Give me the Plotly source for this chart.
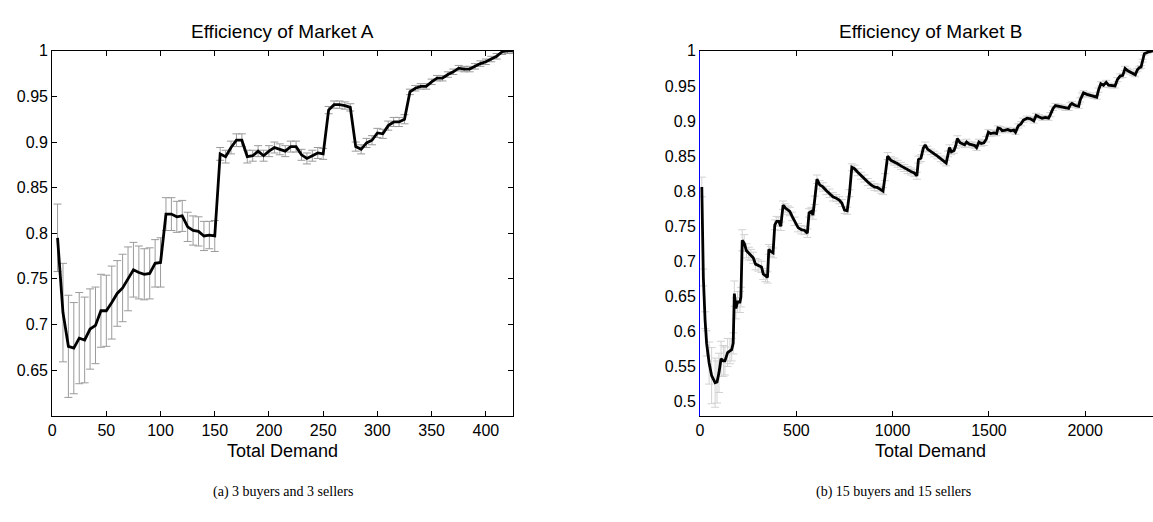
import plotly.graph_objects as go

# ---------------- Market A (3 buyers, 3 sellers) ----------------
demand_a = list(range(5, 426, 5))
eff_a = [0.795, 0.713, 0.676, 0.674, 0.685, 0.683, 0.695, 0.699, 0.715, 0.715,
         0.724, 0.734, 0.740, 0.750, 0.760, 0.757, 0.755, 0.756, 0.767, 0.768,
         0.821, 0.821, 0.818, 0.819, 0.807, 0.803, 0.802, 0.797, 0.798, 0.797,
         0.887, 0.884, 0.894, 0.902, 0.902, 0.884, 0.885, 0.890, 0.885, 0.890,
         0.894, 0.892, 0.890, 0.895, 0.895, 0.886, 0.882, 0.885, 0.888, 0.887,
         0.935, 0.941, 0.941, 0.940, 0.938,
         0.895, 0.892, 0.899, 0.902, 0.910, 0.909, 0.918, 0.922, 0.922, 0.925,
         0.955, 0.959, 0.961, 0.961, 0.966, 0.970, 0.970, 0.974, 0.977, 0.981,
         0.980, 0.980, 0.983, 0.986, 0.988, 0.991, 0.994, 0.999, 1.000, 1.000]
err_a = [0.037, 0.054, 0.056, 0.050, 0.050, 0.047, 0.044, 0.042, 0.040, 0.039,
         0.040, 0.036, 0.037, 0.035, 0.030, 0.029, 0.028, 0.028, 0.026, 0.027,
         0.018, 0.018, 0.017, 0.017, 0.016, 0.016, 0.016, 0.016, 0.015, 0.017,
         0.007, 0.007, 0.007, 0.007, 0.007, 0.007, 0.006, 0.006, 0.006, 0.006,
         0.006, 0.006, 0.006, 0.006, 0.006, 0.006, 0.006, 0.006, 0.006, 0.006,
         0.004, 0.004, 0.004, 0.004, 0.004,
         0.005, 0.005, 0.005, 0.005, 0.005, 0.005, 0.005, 0.005, 0.005, 0.005,
         0.003, 0.003, 0.003, 0.003, 0.003, 0.003, 0.003, 0.003, 0.003, 0.003,
         0.003, 0.003, 0.003, 0.003, 0.003, 0.003, 0.003, 0.003, 0.003, 0.003]

# ---------------- Market B (15 buyers, 15 sellers) ----------------
demand_b = [9, 17, 26, 34, 47, 60, 78, 88, 98, 109,
            121, 129, 143, 155, 164, 172, 178, 186, 195, 207,
            212, 219, 229, 241, 253, 264, 276, 288, 302, 319,
            328, 340, 350, 357, 367, 379, 388, 398, 409, 419,
            431, 443, 457, 466, 478, 491, 509, 526, 543, 557,
            566, 578, 586, 595, 607, 621, 638, 655, 672, 690,
            707, 724, 736, 750, 764, 776, 788, 802, 819, 836,
            853, 871, 888, 905, 922, 940, 950, 960, 974, 991,
            1009, 1026, 1043, 1060, 1078, 1095, 1112, 1126, 1134, 1147,
            1159, 1169, 1181, 1198, 1216, 1233, 1250, 1267, 1278, 1288,
            1295, 1305, 1319, 1328, 1336, 1350, 1362, 1374, 1384, 1398,
            1414, 1426, 1436, 1448, 1460, 1474, 1486, 1497, 1509, 1526,
            1540, 1547, 1560, 1569, 1586, 1598, 1612, 1629, 1638, 1652,
            1667, 1678, 1698, 1716, 1733, 1745, 1759, 1776, 1793, 1810,
            1819, 1833, 1845, 1862, 1879, 1897, 1914, 1922, 1931, 1948,
            1966, 1974, 1983, 1991, 2009, 2026, 2043, 2060, 2069, 2081,
            2095, 2109, 2121, 2138, 2155, 2167, 2181, 2195, 2207, 2219,
            2233, 2250, 2260, 2271, 2281, 2290, 2298, 2307, 2324, 2352]
eff_b = [0.806, 0.677, 0.616, 0.583, 0.555, 0.537, 0.527, 0.528, 0.541, 0.561,
         0.558, 0.558, 0.570, 0.572, 0.574, 0.583, 0.654, 0.633, 0.642, 0.642,
         0.649, 0.730, 0.726, 0.715, 0.711, 0.709, 0.705, 0.696, 0.694, 0.692,
         0.682, 0.679, 0.677, 0.717, 0.714, 0.712, 0.752, 0.757, 0.757, 0.750,
         0.780, 0.776, 0.773, 0.771, 0.764, 0.757, 0.748, 0.745, 0.744, 0.740,
         0.769, 0.771, 0.766, 0.787, 0.817, 0.809, 0.806, 0.801, 0.797, 0.792,
         0.790, 0.787, 0.783, 0.773, 0.772, 0.797, 0.834, 0.832, 0.827, 0.822,
         0.818, 0.813, 0.809, 0.806, 0.805, 0.802, 0.800, 0.820, 0.850, 0.844,
         0.842, 0.839, 0.836, 0.833, 0.830, 0.828, 0.826, 0.822, 0.845, 0.847,
         0.861, 0.866, 0.860, 0.856, 0.853, 0.850, 0.846, 0.843, 0.840, 0.853,
         0.862, 0.856, 0.858, 0.865, 0.875, 0.869, 0.867, 0.866, 0.870, 0.867,
         0.866, 0.865, 0.862, 0.870, 0.868, 0.869, 0.874, 0.884, 0.882, 0.883,
         0.882, 0.890, 0.889, 0.886, 0.887, 0.888, 0.886, 0.887, 0.884, 0.893,
         0.896, 0.901, 0.904, 0.903, 0.900, 0.908, 0.906, 0.904, 0.905, 0.904,
         0.909, 0.918, 0.922, 0.921, 0.920, 0.918, 0.918, 0.923, 0.925, 0.922,
         0.921, 0.930, 0.937, 0.940, 0.938, 0.937, 0.935, 0.934, 0.944, 0.953,
         0.951, 0.955, 0.951, 0.950, 0.950, 0.959, 0.964, 0.965, 0.975, 0.972,
         0.970, 0.968, 0.966, 0.973, 0.976, 0.977, 0.986, 0.996, 0.998, 1.000]
err_b = [0.014, 0.012, 0.012, 0.018, 0.030, 0.040, 0.035, 0.030, 0.028, 0.025,
         0.022, 0.020, 0.020, 0.018, 0.016, 0.015, 0.018, 0.015, 0.015, 0.015,
         0.014, 0.015, 0.012, 0.010, 0.009, 0.008, 0.008, 0.008, 0.008, 0.008,
         0.008, 0.008, 0.008, 0.007, 0.007, 0.007, 0.007, 0.007, 0.006, 0.006,
         0.006, 0.006, 0.006, 0.006, 0.006, 0.006, 0.006, 0.006, 0.006, 0.006,
         0.006, 0.006, 0.006, 0.006, 0.006, 0.006, 0.006, 0.006, 0.006, 0.006,
         0.005, 0.005, 0.005, 0.005, 0.005, 0.005, 0.005, 0.005, 0.005, 0.005,
         0.005, 0.005, 0.005, 0.005, 0.005, 0.005, 0.005, 0.005, 0.005, 0.005,
         0.005, 0.005, 0.005, 0.005, 0.005, 0.005, 0.005, 0.005, 0.005, 0.005,
         0.004, 0.004, 0.004, 0.004, 0.004, 0.004, 0.004, 0.004, 0.004, 0.004,
         0.004, 0.004, 0.004, 0.004, 0.004, 0.004, 0.004, 0.004, 0.004, 0.004,
         0.004, 0.004, 0.004, 0.004, 0.004, 0.004, 0.004, 0.004, 0.004, 0.004,
         0.003, 0.003, 0.003, 0.003, 0.003, 0.003, 0.003, 0.003, 0.003, 0.003,
         0.003, 0.003, 0.003, 0.003, 0.003, 0.003, 0.003, 0.003, 0.003, 0.003,
         0.003, 0.003, 0.003, 0.003, 0.003, 0.003, 0.003, 0.003, 0.003, 0.003,
         0.003, 0.003, 0.003, 0.003, 0.003, 0.003, 0.003, 0.003, 0.003, 0.003,
         0.003, 0.003, 0.003, 0.003, 0.003, 0.003, 0.003, 0.003, 0.003, 0.003,
         0.003, 0.003, 0.003, 0.002, 0.002, 0.002, 0.002, 0.002, 0.002, 0.002]

xticks_a = [0, 50, 100, 150, 200, 250, 300, 350, 400]
yticks_a = [0.65, 0.7, 0.75, 0.8, 0.85, 0.9, 0.95, 1.0]
ylabels_a = ["0.65", "0.7", "0.75", "0.8", "0.85", "0.9", "0.95", "1"]
xticks_b = [0, 500, 1000, 1500, 2000]
yticks_b = [0.5, 0.55, 0.6, 0.65, 0.7, 0.75, 0.8, 0.85, 0.9, 0.95, 1.0]
ylabels_b = ["0.5", "0.55", "0.6", "0.65", "0.7", "0.75", "0.8", "0.85", "0.9", "0.95", "1"]

titles = ["Efficiency of Market A", "Efficiency of Market B"]
xlabel = "Total Demand"
captions = ["(a) 3 buyers and 3 sellers", "(b) 15 buyers and 15 sellers"]

W, H = 1153, 522
SANS = "Liberation Sans, Arial, Helvetica, sans-serif"
SERIF = "Liberation Serif, Times New Roman, serif"

fig = go.Figure()

# Market A: error bars then line
fig.add_trace(go.Scatter(
    x=demand_a, y=eff_a, mode="markers", marker=dict(size=0.1, color="rgba(0,0,0,0)"),
    error_y=dict(type="data", array=err_a, color="rgb(155,155,155)", thickness=1, width=4),
    xaxis="x", yaxis="y", showlegend=False, hoverinfo="skip"))
fig.add_trace(go.Scatter(
    x=demand_a, y=eff_a, mode="lines", line=dict(color="black", width=2.8),
    xaxis="x", yaxis="y", showlegend=False))

# Market B
fig.add_trace(go.Scatter(
    x=demand_b, y=eff_b, mode="markers", marker=dict(size=0.1, color="rgba(0,0,0,0)"),
    error_y=dict(type="data", array=err_b, color="rgb(210,210,210)", thickness=1, width=4),
    xaxis="x2", yaxis="y2", showlegend=False, hoverinfo="skip"))
fig.add_trace(go.Scatter(
    x=demand_b, y=eff_b, mode="lines", line=dict(color="black", width=2.8),
    xaxis="x2", yaxis="y2", showlegend=False))

def px_x(p):
    return p / W

def px_y(p):
    return 1 - p / H

top, bottom = 43.5, 414.0
TICKFONT = dict(family=SANS, size=16, color="black")
ax_common = dict(showgrid=False, zeroline=False, showline=True, linecolor="black",
                 linewidth=1, ticks="inside", ticklen=5, tickcolor="black",
                 tickfont=TICKFONT)

fig.update_layout(
    width=W, height=H, margin=dict(l=0, r=0, t=0, b=0), autosize=False,
    paper_bgcolor="white", plot_bgcolor="white",
    xaxis=dict(domain=[px_x(48.3), px_x(510.7)], range=[0, 425], anchor="y",
               tickvals=xticks_a, mirror="ticks", **ax_common),
    yaxis=dict(domain=[px_y(bottom), px_y(top)], range=[0.6, 1.0], anchor="x",
               tickvals=yticks_a, ticktext=ylabels_a, mirror="ticks", **ax_common),
    xaxis2=dict(domain=[px_x(698.5), 1.0], range=[0, 2352], anchor="y2",
                tickvals=xticks_b, mirror="ticks", **ax_common),
    yaxis2=dict(domain=[px_y(bottom), px_y(top)], range=[0.48, 1.0], anchor="x2",
                tickvals=yticks_b, ticktext=ylabels_b, showgrid=False, zeroline=False,
                showline=True, linecolor="blue", linewidth=1, ticks="",
                tickfont=TICKFONT),
)

annos = []
for cx, t in zip([279.5, 930], titles):
    annos.append(dict(x=px_x(cx), y=px_y(24), xref="paper", yref="paper", text=t,
                      showarrow=False, xanchor="center", yanchor="middle",
                      font=dict(family=SANS, size=19, color="black")))
for cx in [279.5, 930]:
    annos.append(dict(x=px_x(cx), y=px_y(450), xref="paper", yref="paper", text=xlabel,
                      showarrow=False, xanchor="center", yanchor="middle",
                      font=dict(family=SANS, size=18, color="black")))
for cx, t in zip([280, 893], captions):
    annos.append(dict(x=px_x(cx), y=px_y(492), xref="paper", yref="paper", text=t,
                      showarrow=False, xanchor="center", yanchor="middle",
                      font=dict(family=SERIF, size=14, color="black")))
fig.update_layout(annotations=annos)

fig.write_html("out.html", config={"displayModeBar": False},
               post_script="document.body.style.margin='0';document.body.style.overflow='hidden';")
